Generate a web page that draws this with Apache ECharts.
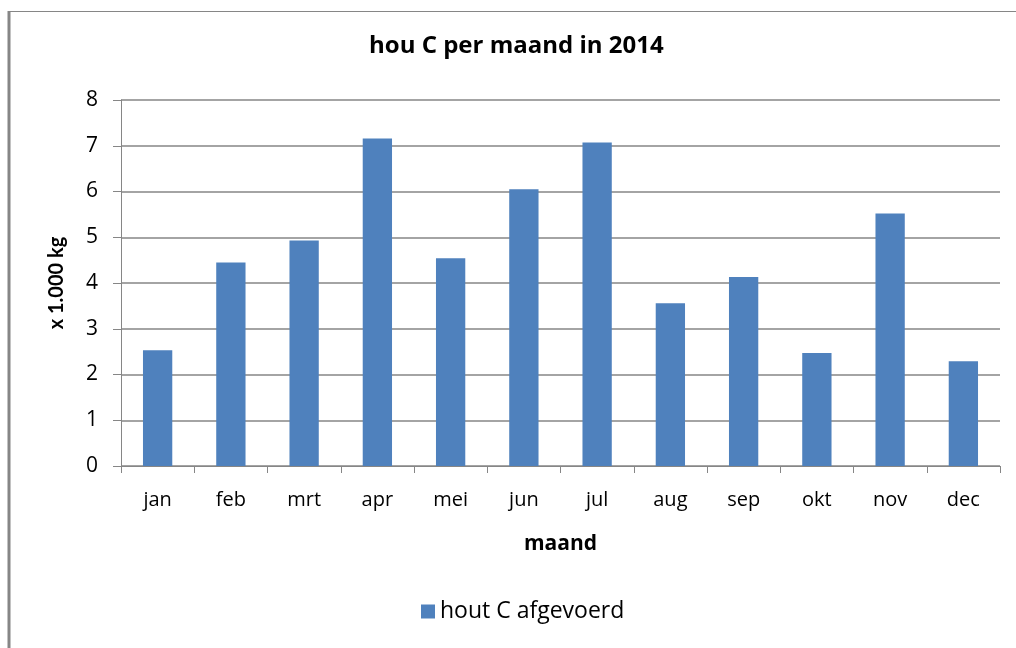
<!DOCTYPE html>
<html>
<head>
<meta charset="utf-8">
<script src="https://cdn.jsdelivr.net/npm/echarts@6/dist/echarts.min.js"></script>
<style>html,body{margin:0;padding:0;background:#fff}#c{width:1016px;height:648px}</style>
</head>
<body>
<div id="c"></div>
<script>
const categories = ['jan','feb','mrt','apr','mei','jun','jul','aug','sep','okt','nov','dec'];
const values = [2.53, 4.45, 4.93, 7.16, 4.54, 6.05, 7.07, 3.56, 4.13, 2.47, 5.52, 2.29];
const seriesName = 'hout C afgevoerd';
const titleText = 'hou C per maand in 2014';
const yName = 'x 1.000 kg';
const xName = 'maand';

const FONT = '"Open Sans", Lato, sans-serif';
const FONT_V = 'Lato, "Open Sans", sans-serif';
const chart = echarts.init(document.getElementById('c'), null, {renderer: 'canvas'});
chart.setOption({
  animation: false,
  backgroundColor: '#fff',
  title: {
    text: titleText, left: 364, top: 29,
    textStyle: {fontFamily: FONT, fontSize: 24, fontWeight: 'bold', color: '#000'}
  },
  legend: {
    data: [seriesName], bottom: 20, left: 416,
    icon: 'rect', itemWidth: 14, itemHeight: 14, itemGap: 6,
    textStyle: {fontFamily: FONT, fontSize: 23, color: '#000', padding: [0,0,0,0]}
  },
  grid: {left: 121, right: 16, top: 100, bottom: 182, containLabel: false},
  xAxis: {
    type: 'category', data: categories,
    name: xName, nameLocation: 'middle', nameGap: 68,
    nameTextStyle: {fontFamily: FONT, fontSize: 21, fontWeight: 'bold', color: '#000'},
    axisLine: {lineStyle: {color: '#868686', width: 1}},
    axisTick: {show: true, alignWithLabel: false, length: 7, lineStyle: {color: '#868686'}},
    axisLabel: {fontFamily: FONT, fontSize: 20, color: '#000', margin: 24}
  },
  yAxis: {
    type: 'value', min: 0, max: 8, interval: 1,
    name: yName, nameLocation: 'middle', nameGap: 54, nameRotate: 90,
    nameTextStyle: {fontFamily: FONT_V, fontSize: 20, fontWeight: 'bold', color: '#000'},
    axisLine: {show: true, lineStyle: {color: '#868686', width: 1}},
    axisTick: {show: true, length: 8, lineStyle: {color: '#868686'}},
    axisLabel: {fontFamily: FONT, fontSize: 21, color: '#000', margin: 23},
    splitLine: {show: true, lineStyle: {color: '#868686', width: 1.5}}
  },
  series: [{
    name: seriesName, type: 'bar', data: values,
    barCategoryGap: '60%',
    itemStyle: {color: '#4f81bd'}
  }],
  graphic: [
    {type: 'line', shape: {x1: 8, y1: 11.5, x2: 1016, y2: 11.5}, style: {stroke: '#868686', lineWidth: 1}, silent: true},
    {type: 'line', shape: {x1: 9, y1: 11, x2: 9, y2: 648}, style: {stroke: '#868686', lineWidth: 3}, silent: true}
  ]
});
</script>
</body>
</html>
